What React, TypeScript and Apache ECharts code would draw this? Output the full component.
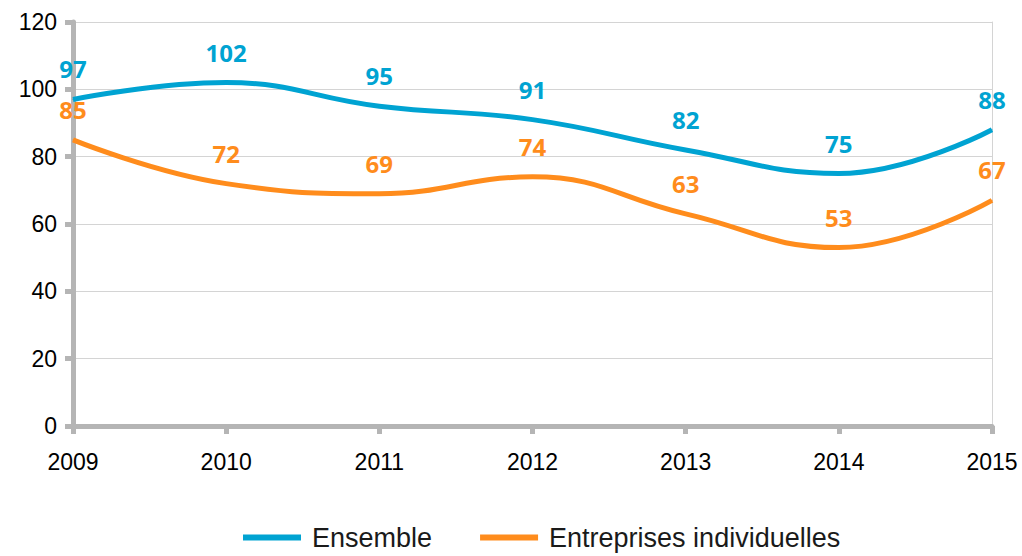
import React, { useEffect, useRef } from "react";
import * as echarts from "echarts";

const years = ["2009", "2010", "2011", "2012", "2013", "2014", "2015"];
const ensemble = [97, 102, 95, 91, 82, 75, 88];
const entreprises = [85, 72, 69, 74, 63, 53, 67];
const yTicks = { min: 0, max: 120, interval: 20 };

const BLUE = "#00A3D2";
const ORANGE = "#FF8C1C";
const AXIS = "#b5b5b5";

export default function App() {
  const ref = useRef<HTMLDivElement>(null);
  useEffect(() => {
    const chart = echarts.init(ref.current!, undefined, { renderer: "svg" });
    const labelStyle = (color: string) => ({
      show: true,
      position: "top",
      distance: 18,
      color,
      fontFamily: "Open Sans",
      fontWeight: "bold",
      fontSize: 24,
    });
    chart.setOption({
      animation: false,
      backgroundColor: "#ffffff",
      grid: { left: 73, right: 30, top: 22, bottom: 130, containLabel: false },
      legend: {
        bottom: 0,
        left: 238,
        itemWidth: 58,
        itemHeight: 6,
        itemGap: 48,
        icon: "rect",
        textStyle: { fontFamily: "Liberation Sans", fontSize: 27, color: "#1a1a1a", padding: [0, 0, 0, 6] },
        data: ["Ensemble", "Entreprises individuelles"],
      },
      xAxis: {
        type: "category",
        data: years,
        boundaryGap: false,
        axisLine: { lineStyle: { color: AXIS, width: 5 } },
        axisTick: { show: true, length: 8, lineStyle: { color: AXIS, width: 5 } },
        axisLabel: { color: "#000", fontFamily: "Liberation Sans", fontSize: 23, margin: 24 },
        splitLine: { show: false },
      },
      yAxis: [
        {
          type: "value",
          min: yTicks.min,
          max: yTicks.max,
          interval: yTicks.interval,
          axisLine: { show: true, lineStyle: { color: AXIS, width: 5 } },
          axisTick: { show: true, length: 8, lineStyle: { color: AXIS, width: 5 } },
          axisLabel: { color: "#000", fontFamily: "Liberation Sans", fontSize: 23, margin: 16 },
          splitLine: { show: true, lineStyle: { color: "#d4d4d4", width: 1 } },
        },
        {
          type: "value",
          position: "right",
          min: yTicks.min,
          max: yTicks.max,
          interval: yTicks.interval,
          axisLine: { show: true, lineStyle: { color: "#d4d4d4", width: 1 } },
          axisTick: { show: false },
          axisLabel: { show: false },
          splitLine: { show: false },
        },
      ],
      series: [
        {
          name: "Ensemble",
          type: "line",
          data: ensemble,
          smooth: 0.45,
          symbol: "circle",
          symbolSize: 1,
          showSymbol: true,
          lineStyle: { color: BLUE, width: 5 },
          itemStyle: { color: BLUE },
          label: labelStyle(BLUE),
          z: 3,
        },
        {
          name: "Entreprises individuelles",
          type: "line",
          data: entreprises,
          smooth: 0.45,
          symbol: "circle",
          symbolSize: 1,
          showSymbol: true,
          lineStyle: { color: ORANGE, width: 5 },
          itemStyle: { color: ORANGE },
          label: labelStyle(ORANGE),
          z: 3,
        },
      ],
    });
    return () => chart.dispose();
  }, []);
  return <div ref={ref} style={{ width: 1022, height: 556, position: "fixed", left: 0, top: 0 }} />;
}
